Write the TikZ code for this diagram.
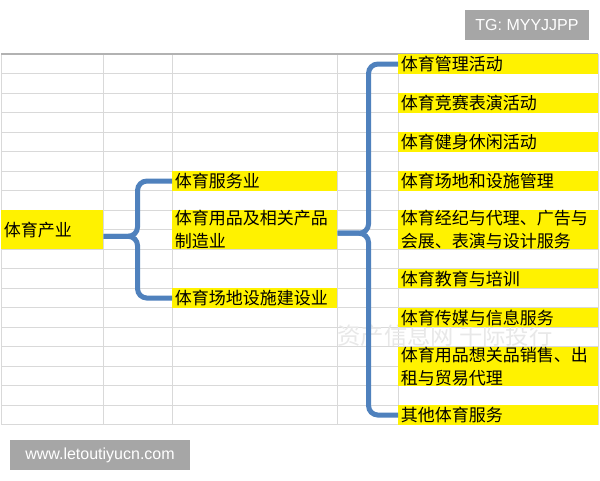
\documentclass[tikz,border=0pt]{standalone}
\usepackage{fontspec}
\setmainfont{Liberation Sans}
\newfontfamily\cjk{Noto Sans CJK SC}
\definecolor{braceblue}{HTML}{4F81BD}
\definecolor{gridgray}{HTML}{D9D9D9}
\definecolor{taggray}{HTML}{A6A6A6}

\tikzset{
  gridline/.style={gridgray,line width=0.6pt},
  cell/.style={fill=yellow,anchor=north west,inner xsep=2pt,inner ysep=0pt,align=left,
    font=\cjk\fontsize{12.75}{17}\selectfont,minimum height=14.625pt},
  twoline/.style={minimum height=29.25pt},
  cellL/.style={cell,text width=72.5pt},
  cellM/.style={cell,text width=119.75pt},
  cellR/.style={cell,text width=146pt},
  brace/.style={braceblue,line width=3.75pt,rounded corners=7pt},
  tagbox/.style={fill=taggray,text=white,font=\fontsize{12}{14}\selectfont,minimum height=22.5pt},
  wmark/.style={black!9,font=\cjk\fontsize{17.5}{18}\selectfont}
}

\begin{document}
\begin{tikzpicture}[x=0.75pt,y=-0.75pt]
  \fill[white] (0,0) rectangle (600,480);
  \useasboundingbox (0,0) rectangle (600,480);

  \foreach \r in {0,...,19} {
    \draw[gridline] (1,{54+19.5*\r}) -- (598,{54+19.5*\r});
  }
  \foreach \c in {1,103,172,337,398,598} {
    \draw[gridline] (\c,54) -- (\c,424.5);
  }
  \draw[black!30,line width=0.8pt] (1,54) -- (598,54);

  \node[wmark] (wm) at (445,336) {资产信息网 千际投行};

  \node[cellL,twoline] (ind) at (1,210) {体育产业};

  \node[cellM] (svc) at (172,171) {体育服务业};
  \node[cellM,twoline] (mfg) at (172,210) {体育用品及相关产品\\制造业};
  \node[cellM] (build) at (172,288) {体育场地设施建设业};

  \node[cellR] (mgmt) at (398,54) {体育管理活动};
  \node[cellR] (comp) at (398,93) {体育竞赛表演活动};
  \node[cellR] (fit) at (398,132) {体育健身休闲活动};
  \node[cellR] (venue) at (398,171) {体育场地和设施管理};
  \node[cellR,twoline] (agent) at (398,210) {体育经纪与代理、广告与\\会展、表演与设计服务};
  \node[cellR] (edu) at (398,268.5) {体育教育与培训};
  \node[cellR] (media) at (398,307.5) {体育传媒与信息服务};
  \node[cellR,twoline] (sales) at (398,346.5) {体育用品想关品销售、出\\租与贸易代理};
  \node[cellR] (other) at (398,405) {其他体育服务};

  \draw[brace] ([yshift=-4.9pt]ind.east) -- ++(34,0) |- (svc.west);
  \draw[brace] ([yshift=-4.9pt]ind.east) -- ++(34,0) |- (build.west);
  \draw[brace] ([yshift=-2.6pt]mfg.east) -- ++(31,0) |- (mgmt.west);
  \draw[brace] ([yshift=-2.6pt]mfg.east) -- ++(31,0) |- (other.west);

  \node[tagbox,minimum width=93pt] (tg) at (527,25) {TG: MYYJJPP};
  \node[tagbox,minimum width=135pt] (web) at (100,455) {www.letoutiyucn.com};
\end{tikzpicture}
\end{document}
